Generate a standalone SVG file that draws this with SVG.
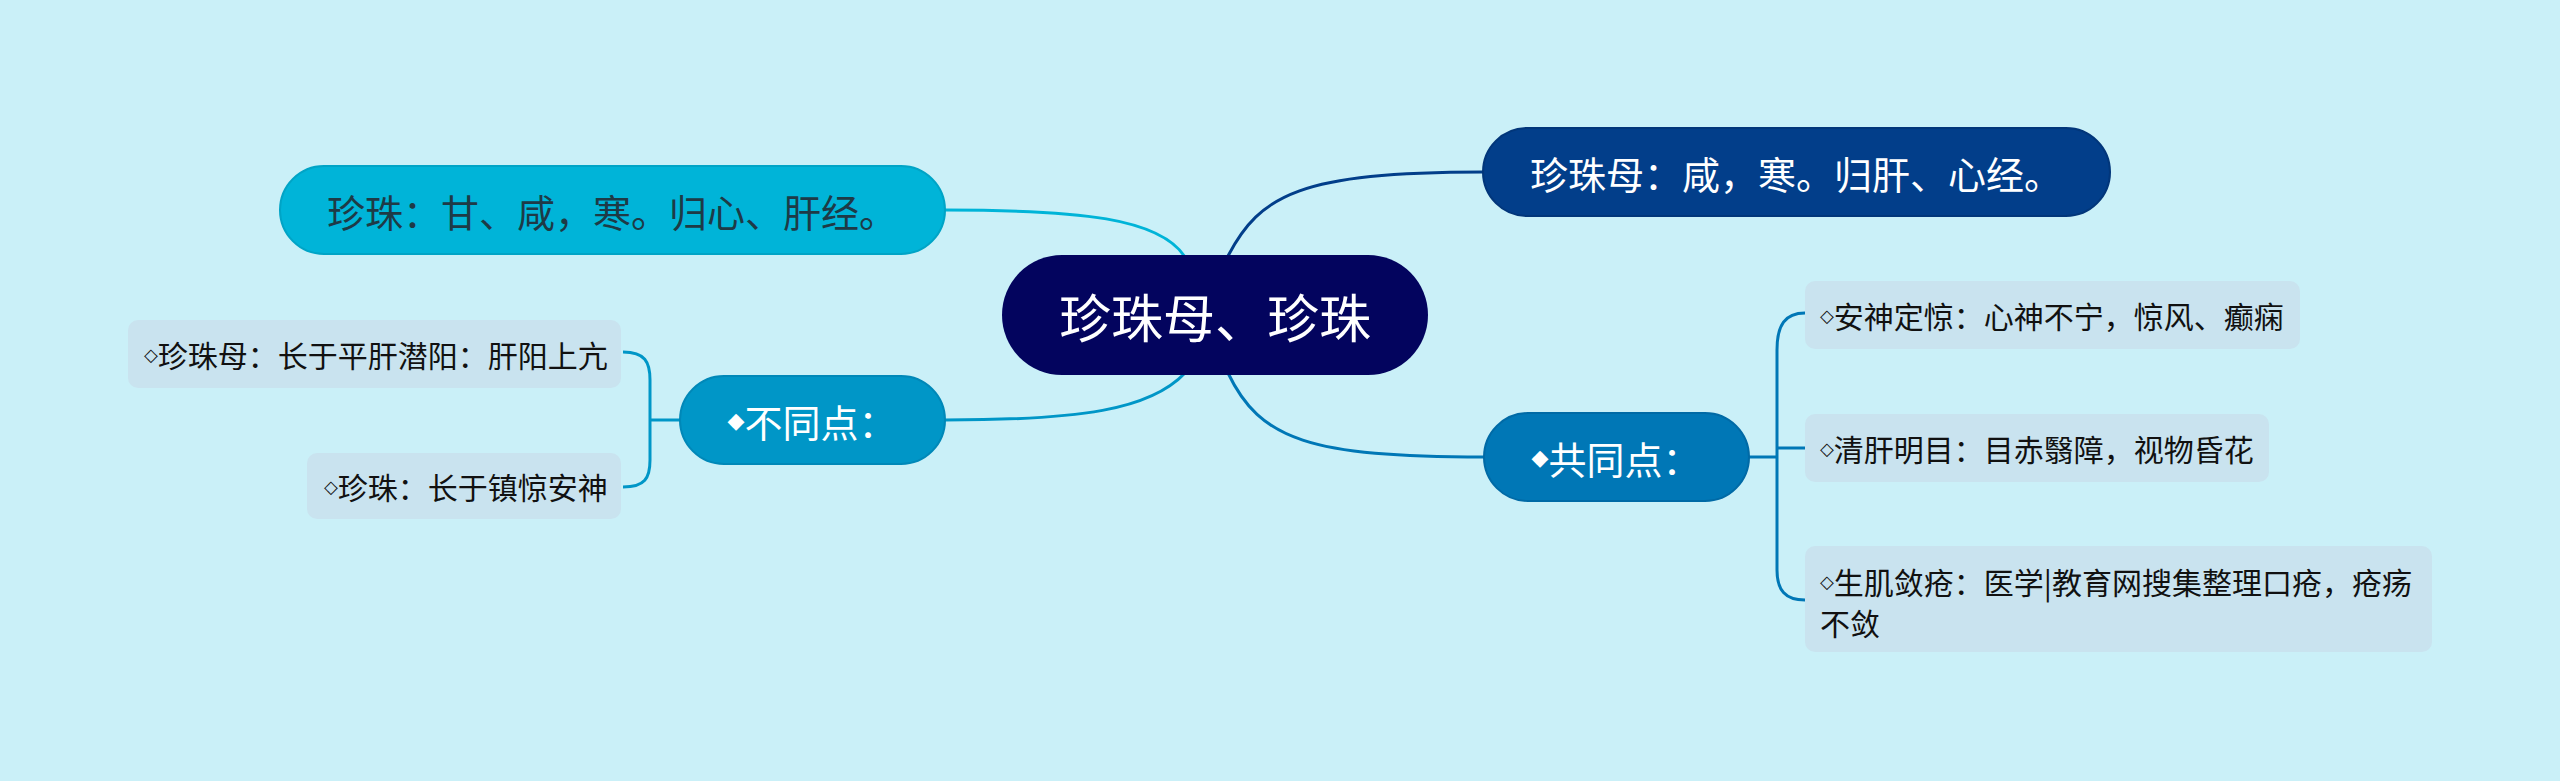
<svg xmlns="http://www.w3.org/2000/svg" width="2560" height="781" viewBox="0 0 2560 781">
<style>
text{font-family:"Noto Sans CJK SC","Noto Sans",sans-serif}
.main{font-size:38px;dominant-baseline:central;text-anchor:middle}
.leaf{font-size:30px;fill:#111;dominant-baseline:central}
.lbox{fill:#c9e3ef}
.sym{font-family:"DejaVu Sans",sans-serif;font-size:18px}
.sym2{font-family:"DejaVu Sans",sans-serif;font-size:22px}
.c{fill:none;stroke-width:3}
</style>
<rect width="2560" height="781" fill="#caf0f8"/>
<g id="connectors">
<path class="c" stroke="#00b4d8" d="M945,210 C1080,210 1160,218 1185,257"/>
<path class="c" stroke="#023e8a" d="M1228,256 C1260,195 1300,172 1483,172"/>
<path class="c" stroke="#0096c7" d="M1185,373 C1150,410 1080,420 945,420"/>
<path class="c" stroke="#0077b6" d="M1228,373 C1260,440 1310,457 1484,457"/>
<path class="c" stroke="#0096c7" d="M680,420 L650,420 M623,352 C645,352 650,362 650,380 L650,460 C650,478 645,487 623,487"/>
<path class="c" stroke="#0077b6" d="M1749,457 L1777,457 M1805,313 C1785,313 1777,325 1777,350 L1777,570 C1777,590 1785,600 1805,600 M1777,448 L1805,448"/>
</g>
<g id="center">
<rect x="1002" y="255" width="426" height="120" rx="60" fill="#03045e"/>
<text class="main" x="1215" y="315" fill="#fff" style="font-size:52px">珍珠母、珍珠</text>
</g>
<g id="zhenzhu">
<rect x="280" y="166" width="665" height="88" rx="44" fill="#00b4d8" stroke="#00a4c6" stroke-width="2"/>
<text class="main" x="612" y="210" fill="#1e3a46">珍珠：甘、咸，寒。归心、肝经。</text>
</g>
<g id="zhenzhumu">
<rect x="1483" y="128" width="627" height="88" rx="44" fill="#023e8a" stroke="#02367a" stroke-width="2"/>
<text class="main" x="1796" y="172" fill="#fff">珍珠母：咸，寒。归肝、心经。</text>
</g>
<g id="butongdian">
<rect x="680" y="376" width="265" height="88" rx="44" fill="#0096c7" stroke="#0088b8" stroke-width="2"/>
<text class="main" x="812" y="420" fill="#fff"><tspan class="sym2">◆</tspan>不同点：</text>
</g>
<g id="gongtongdian">
<rect x="1484" y="413" width="265" height="88" rx="44" fill="#0077b6" stroke="#006aa6" stroke-width="2"/>
<text class="main" x="1616" y="457" fill="#fff"><tspan class="sym2">◆</tspan>共同点：</text>
</g>
<g id="leaf-l1">
<rect class="lbox" x="128" y="320" width="493" height="68" rx="10"/>
<text class="leaf" x="144" y="354"><tspan class="sym">◇</tspan>珍珠母：长于平肝潜阳：肝阳上亢</text>
</g>
<g id="leaf-l2">
<rect class="lbox" x="307" y="453" width="314" height="66" rx="10"/>
<text class="leaf" x="324" y="486"><tspan class="sym">◇</tspan>珍珠：长于镇惊安神</text>
</g>
<g id="leaf-r1">
<rect class="lbox" x="1805" y="281" width="495" height="68" rx="10"/>
<text class="leaf" x="1820" y="315"><tspan class="sym">◇</tspan>安神定惊：心神不宁，惊风、癫痫</text>
</g>
<g id="leaf-r2">
<rect class="lbox" x="1805" y="414" width="464" height="68" rx="10"/>
<text class="leaf" x="1820" y="448"><tspan class="sym">◇</tspan>清肝明目：目赤翳障，视物昏花</text>
</g>
<g id="leaf-r3">
<rect class="lbox" x="1805" y="546" width="627" height="106" rx="10"/>
<text class="leaf" x="1820" y="581"><tspan class="sym">◇</tspan>生肌敛疮：医学|教育网搜集整理口疮，疮疡</text>
<text class="leaf" x="1820" y="622">不敛</text>
</g>
</svg>
